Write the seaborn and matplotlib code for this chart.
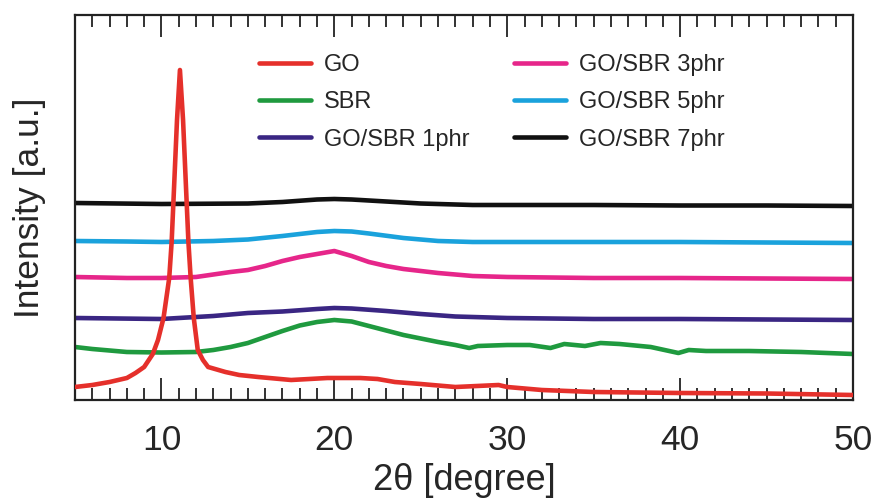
import numpy as np
import pandas as pd
import matplotlib
matplotlib.use("Agg")
import matplotlib.pyplot as plt
from matplotlib.ticker import MultipleLocator
import seaborn as sns

# XRD patterns (2θ in degrees, intensity in arbitrary units, curves stacked with offsets)
go_theta = [5, 6, 7, 8, 8.5, 9, 9.5, 9.8, 10.12, 10.45, 10.59, 10.69, 10.9, 11.07,
            11.25, 11.46, 11.56, 11.69, 11.87, 12.1, 12.4, 12.7, 13.7, 14.5, 15.6, 17.5,
            19.6, 21.5, 22.5, 23.5, 25, 27, 29.5, 30, 32, 35, 40, 45, 50]
go_int = [13, 15, 18, 22, 27, 33, 46, 60, 82, 122, 158, 197, 280, 330,
          280, 197, 158, 122, 82, 50, 40, 33, 28, 25, 23, 20,
          22, 22, 21, 18, 16, 13, 15, 13, 10, 8, 7, 6.5, 5]

sbr_theta = [5, 6, 8, 10, 12, 13, 14, 15, 16, 17, 18, 19, 20, 21, 22, 23, 24, 25, 26, 27,
             27.8, 28.3, 30, 31.3, 32.5, 33.3, 34.5, 35.4, 36.5, 38.3, 39.9, 40.5, 41.5,
             44, 47, 50]
sbr_int = [53, 51, 48, 47.5, 48, 50, 53, 57, 63, 69, 74.5, 78, 80, 78.5, 74, 69.5, 65, 61.5,
           58, 55, 52, 54, 55, 55, 52, 56, 54, 57, 56, 53, 47, 50, 49, 49, 48, 46]

phr1_theta = [5, 10, 13, 15, 17, 19, 20, 21, 23, 25, 27, 30, 35, 40, 45, 50]
phr1_int = [82, 81, 84, 87, 88.5, 91, 92, 91.5, 89, 86, 83.5, 82, 81, 81, 80.5, 80]

phr3_theta = [5, 8, 10, 12, 14, 15, 16, 17, 18, 19, 20, 21, 22, 23, 24, 25, 26, 28, 30,
              35, 40, 45, 50]
phr3_int = [123, 122, 122, 123, 128, 130, 134, 139, 143, 146, 149, 144, 138, 134, 131, 129,
            127, 124, 123, 122, 122, 121.5, 121]

phr5_theta = [5, 8, 10, 13, 15, 17, 19, 20, 21, 22, 24, 26, 28, 30, 35, 40, 45, 50]
phr5_int = [159, 158.5, 158, 159, 160.5, 164, 168, 169, 168.5, 166.5, 162, 159, 158, 158,
            158, 158, 157.5, 157]

phr7_theta = [5, 10, 15, 17, 19, 20, 21, 23, 25, 28, 30, 35, 40, 45, 50]
phr7_int = [197, 196, 196.5, 198, 200.5, 201, 200.5, 198.5, 196.5, 195, 195, 195, 194.5,
            194.5, 194]

labels = ["GO", "SBR", "GO/SBR 1phr", "GO/SBR 3phr", "GO/SBR 5phr", "GO/SBR 7phr"]
colors = ["#E5302B", "#1F9A3F", "#3A2683", "#E6268A", "#1AA2DC", "#111111"]

series = [(go_theta, go_int), (sbr_theta, sbr_int), (phr1_theta, phr1_int),
          (phr3_theta, phr3_int), (phr5_theta, phr5_int), (phr7_theta, phr7_int)]

frames = []
for lab, (t, v) in zip(labels, series):
    frames.append(pd.DataFrame({"two_theta": t, "intensity": v, "sample": lab}))
df = pd.concat(frames, ignore_index=True)

sns.set_theme(style="ticks")
plt.rcParams["font.family"] = ["Liberation Sans", "DejaVu Sans"]

fig = plt.figure(figsize=(8.75, 5.04), dpi=100)
ax = fig.add_axes([75 / 875, 104 / 504, 778 / 875, 385 / 504])

# draw composites first so the GO trace sits on top
handles = {}
for lab, col in list(zip(labels, colors))[::-1]:
    sub = df[df["sample"] == lab]
    sns.lineplot(data=sub, x="two_theta", y="intensity", color=col, lw=3.3,
                 estimator=None, sort=False, ax=ax, label=lab)
for line in ax.lines:
    handles[line.get_label()] = line
    if line.get_label() == "GO":
        line.set_zorder(5)

ax.set_xlim(5, 50)
ax.set_ylim(0, 385)
ax.set_yticks([])
ax.xaxis.set_major_locator(MultipleLocator(10))
ax.xaxis.set_minor_locator(MultipleLocator(1))
ax.tick_params(axis="x", which="both", direction="in", top=True, bottom=True,
               width=1.3, color="#222222")
ax.tick_params(axis="x", which="major", length=16, pad=17, labelsize=25.5)
ax.tick_params(axis="x", which="minor", length=8.5)
for sp in ax.spines.values():
    sp.set_visible(True)
    sp.set_linewidth(1.6)
    sp.set_color("#222222")

ax.set_xlabel("2θ [degree]", fontsize=26)
ax.set_ylabel("Intensity [a.u.]", fontsize=25.5)
ax.xaxis.set_label_coords(0.5, -0.163)
ax.yaxis.set_label_coords(-0.037, 0.5)

ax.legend([handles[l] for l in labels], labels, ncol=2, frameon=False,
          fontsize=17, handlelength=2.2, handletextpad=0.55, columnspacing=1.9,
          labelspacing=0.64, loc="upper left", bbox_to_anchor=(0.209, 0.953))

fig.savefig("out.png", dpi=100)
